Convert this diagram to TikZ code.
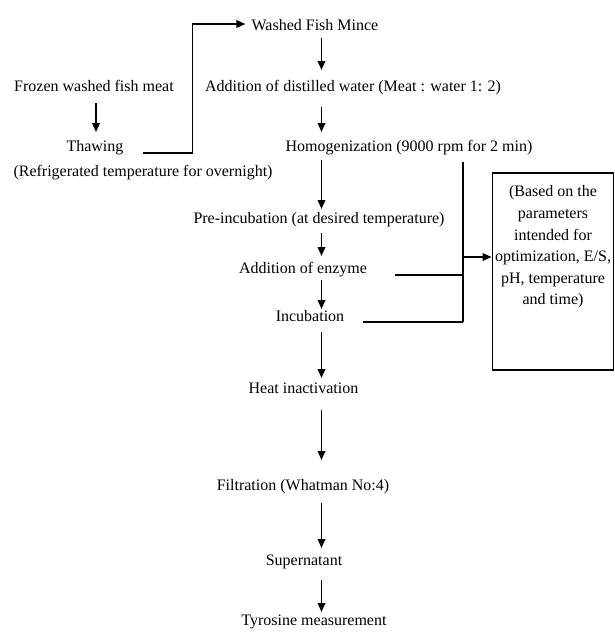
\documentclass[tikz,border=0pt]{standalone}
\usepackage{fontspec}
\setmainfont{Liberation Serif}
\usetikzlibrary{arrows.meta,calc}
\begin{document}
\begin{tikzpicture}[x=1pt,y=-1pt,
  txt/.style={inner sep=0pt,font=\fontsize{16}{21.6}\selectfont,text height=11pt,text depth=3.5pt},
  ln/.style={line width=1.8pt},
  arr/.style={ln,-{Triangle[length=9pt,width=7.5pt]}}]
\useasboundingbox (0,0) rectangle (615,641);
\coordinate (sp) at (321.5,0);
\coordinate (jx) at (463,0);
\node[txt] (frozen) at (94,88) {Frozen washed fish meat};
\node[txt] (thaw) at (95,148) {Thawing};
\node[txt] (refrig) at (143,173) {(Refrigerated temperature for overnight)};
\node[txt] (wfm) at (315,27) {Washed Fish Mince};
\node[txt] (adw) at (353,88) {Addition of distilled water (Meat : water 1: 2)};
\node[txt] (homog) at (409,148) {Homogenization (9000 rpm for 2 min)};
\node[txt] (preinc) at (319,220) {Pre-incubation (at desired temperature)};
\node[txt] (enz) at (303,270) {Addition of enzyme};
\node[txt] (incub) at (310,318) {Incubation};
\node[txt] (heat) at (303.5,390) {Heat inactivation};
\node[txt] (filt) at (303,487) {Filtration (Whatman No:4)};
\node[txt] (super) at (304,562) {Supernatant};
\node[txt] (tyro) at (314,622) {Tyrosine measurement};
\node[draw,line width=1.8pt,minimum width=121pt,minimum height=197pt,inner sep=0pt] (box) at (553,271.5) {};
\node[align=center,inner sep=0pt,font=\fontsize{16}{21.6}\selectfont] (boxtxt) at (553,247)
  {(Based on the\\parameters\\intended for\\optimization, E/S,\\pH, temperature\\and time)};
% left branch
\draw[arr] ($(frozen.center)+(2,15)$) -- ($(thaw.center)+(1,-16)$);
\coordinate (tr) at ($(thaw.east)+(19,5)$);
\draw[arr] (tr) -| ($(wfm.west)+(-59,-3)$) -- ($(wfm.west)+(-6,-3)$);
% main spine
\draw[arr] ($(wfm.center -| sp)+(0,11)$) -- ($(adw.center -| sp)+(0,-18)$);
\draw[arr] ($(adw.center -| sp)+(0,19)$) -- ($(homog.center -| sp)+(0,-16)$);
\draw[arr] ($(homog.center -| sp)+(0,12)$) -- ($(preinc.center -| sp)+(0,-11)$);
\draw[arr] ($(preinc.center -| sp)+(0,13)$) -- ($(enz.center -| sp)+(0,-14)$);
\draw[arr] ($(enz.center -| sp)+(0,10)$) -- ($(incub.center -| sp)+(0,-9)$);
\draw[arr] ($(incub.center -| sp)+(0,14)$) -- ($(heat.center -| sp)+(0,-12)$);
\draw[arr] ($(heat.center -| sp)+(0,20)$) -- ($(filt.center -| sp)+(0,-27)$);
\draw[arr] ($(filt.center -| sp)+(0,16)$) -- ($(super.center -| sp)+(0,-14)$);
\draw[arr] ($(super.center -| sp)+(0,18)$) -- ($(tyro.center -| sp)+(0,-10)$);
% collector to box
\draw[ln] ($(homog.center -| jx)+(0,14)$) -- ($(incub.center -| jx)+(0,4)$);
\draw[ln] ($(enz.center -| jx)+(-68,5)$) -- ($(enz.center -| jx)+(0,5)$);
\draw[ln] ($(incub.center -| jx)+(-100,4)$) -- ($(incub.center -| jx)+(0,4)$);
\draw[arr] ($(box.west |- 0,257)+(-29,0)$) -- (box.west |- 0,257);
\end{tikzpicture}
\end{document}
